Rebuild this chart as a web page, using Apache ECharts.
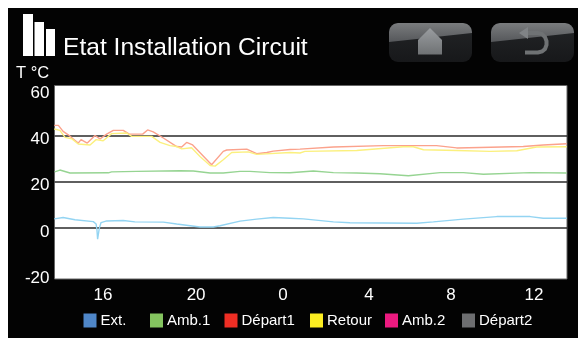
<!DOCTYPE html>
<html><head><meta charset="utf-8">
<style>html,body{margin:0;padding:0;background:#fff}#c{width:578px;height:339px}</style>
<script src="https://cdn.jsdelivr.net/npm/echarts@6/dist/echarts.min.js"></script></head>
<body><div id="c"></div>
<script>
const yTicks=[-20,0,20,40,60];
const yLines=[0,20,40];
const xTickNames=['16','20','0','4','8','12'];
const xTickHours=[16,20.32,24.35,28.34,32.15,36];
const legendNames=['Ext.','Amb.1','Départ1','Retour','Amb.2','Départ2'];
const legendColors=['#4f87c9','#84c45f','#ee2e24','#fcee21','#ec1a80','#6d6e70'];
const legendLefts=[83.5,150,224.5,310,385,462];
const extH=[13.74,14.15,14.7,15.55,15.68,15.72,15.75,15.8,15.83,15.91,16.17,16.94,17.48,18.8,19.42,20.5,21.12,21.43,22.36,23.13,23.9,24.68,25.3,26.69,27.46,30.56,31.33,32.72,34.27,35.82,36.43,37.52];
const extT=[3.9,4.5,3.5,2.7,1.7,-0.9,-4.9,-4.9,-0.1,2.3,3.0,3.2,2.6,2.5,1.7,0.4,0.4,0.9,2.9,3.8,4.5,4.2,3.9,2.6,2.2,2.0,2.6,3.8,4.9,4.9,4.2,4.2];
const amb1H=[13.76,14.0,14.47,16.25,16.4,17.56,19.57,20.19,20.97,21.58,22.36,22.82,23.75,24.68,25.76,26.69,27.77,28.85,30.17,31.64,32.72,33.65,35.82,37.52];
const amb1T=[24.3,25.1,23.8,23.9,24.3,24.5,24.8,24.7,23.8,23.8,24.5,24.5,24.0,23.9,24.7,24.0,23.8,23.5,22.6,24.0,24.0,23.3,24.0,23.8];
const depH=[13.74,13.93,14.15,14.39,14.62,14.85,14.98,15.27,15.63,15.86,16.17,16.48,16.94,17.22,17.84,18.07,18.33,18.8,19.42,19.65,19.88,20.16,21.04,21.58,21.74,22.67,23.13,23.6,23.9,24.68,25.14,26.69,29.0,30.25,31.48,32.41,33.49,35.5,36.43,37.52];
const depT=[44.5,44.5,41.9,40.4,38.6,36.8,38.3,36.8,40.1,38.6,40.7,42.3,42.3,40.7,40.7,42.5,41.7,39.0,35.3,35.1,37.1,36.0,27.4,33.2,33.8,34.2,32.2,32.7,33.3,34.0,34.2,35.1,35.7,35.7,35.7,34.7,34.9,35.3,36.0,36.5];
const retH=[13.74,14.0,14.24,14.55,14.85,15.4,15.68,16.01,16.4,17.1,17.33,18.26,18.65,19.11,19.42,19.65,20.11,20.5,20.97,21.2,21.58,21.97,22.74,23.13,24.68,25.14,25.37,27.77,29.93,30.4,30.87,32.41,33.96,35.2,36.12,37.52];
const retT=[42.9,42.3,39.3,38.7,36.4,36.0,38.3,37.8,40.9,41.2,39.7,39.7,37.1,35.7,35.3,34.3,34.8,31.0,27.1,26.8,29.6,32.7,33.0,31.9,32.7,32.5,33.2,33.6,35.2,35.2,33.9,33.6,33.2,33.5,35.1,35.2];
const pairs=(h,t)=>h.map((v,i)=>[v,t[i]]);
const lineColors=['#93d4f2','#96d492','#fba28c','#fbf07e'];
const seriesData=[pairs(extH,extT),pairs(amb1H,amb1T),pairs(depH,depT),pairs(retH,retT),[],[]];
const chart=echarts.init(document.getElementById('c'),null,{renderer:'canvas'});
const font='"Liberation Sans",Arial,sans-serif';
const btn=(x)=>[
 {type:'rect',shape:{x:x,y:23,width:83,height:39,r:9},style:{fill:new echarts.graphic.LinearGradient(0,0,0,1,[{offset:0,color:'#232527'},{offset:1,color:'#17181a'}])},z:1},
 {type:'polygon',shape:{points:[[x,42],[x,32],[x+1,28],[x+3,25.5],[x+5,24],[x+9,23],[x+74,23],[x+78,24],[x+80,25.5],[x+82,28],[x+83,32],[x+83,33]]},style:{fill:new echarts.graphic.LinearGradient(0,0,0,1,[{offset:0,color:'#7a7c7e'},{offset:1,color:'#55575a'}])},z:1}
];
chart.setOption({
 animation:false,backgroundColor:'#fff',
 title:{text:'Etat Installation Circuit',left:63,top:36,padding:0,textStyle:{color:'#fff',fontFamily:font,fontSize:24.6,fontWeight:'normal'}},
 grid:{left:54.5,right:11,top:85.5,bottom:60,show:true,backgroundColor:'#fff',borderColor:'#666',borderWidth:1,containLabel:false},
 legend:legendNames.map((n,i)=>({left:legendLefts[i],top:313,padding:0,itemWidth:13,itemHeight:14,icon:'rect',selectedMode:false,
  data:[{name:n}],textStyle:{color:'#fff',fontFamily:font,fontSize:15,padding:[2,0,0,-1]}})),
 xAxis:{type:'value',min:13.75,max:37.53,axisLine:{show:false},splitLine:{show:false},
  axisTick:{show:false,customValues:xTickHours},
  axisLabel:{customValues:xTickHours,showMinLabel:true,showMaxLabel:true,margin:8,color:'#fff',fontFamily:font,fontSize:17,
   formatter:v=>xTickNames[xTickHours.indexOf(v)]}},
 yAxis:{type:'value',min:-22.2,max:61.8,axisLine:{show:false},
  axisTick:{show:false,customValues:yLines},
  splitLine:{show:true,lineStyle:{color:'#2a2a2a',width:1.5}},
  axisLabel:{customValues:yTicks,margin:5,color:'#fff',fontFamily:font,fontSize:17,verticalAlign:'top',lineHeight:8}},
 series:legendNames.map((n,i)=>({name:n,type:'line',showSymbol:false,symbol:'none',smooth:false,
  itemStyle:{color:legendColors[i]},lineStyle:{color:lineColors[i]||legendColors[i],width:1.4},
  data:seriesData[i],z:3})),
 graphic:{elements:[
  {type:'rect',shape:{x:8,y:8,width:570,height:330},style:{fill:'#030303'},z:-10,silent:true},
  {type:'rect',shape:{x:23,y:14,width:10,height:42},style:{fill:'#fff'},z:1},
  {type:'rect',shape:{x:34.5,y:22,width:9.5,height:34},style:{fill:'#fff'},z:1},
  {type:'rect',shape:{x:46,y:29,width:9,height:27},style:{fill:'#fff'},z:1},
  {type:'text',left:16,top:65,style:{text:'T °C',fill:'#fff',font:'16.5px '+font},z:1},
  ...btn(389),...btn(491),
  {type:'polygon',shape:{points:[[418,40],[430,28],[442,40],[442,54.5],[418,54.5]]},style:{fill:new echarts.graphic.LinearGradient(0,0,0,1,[{offset:0,color:'#9a9da0'},{offset:1,color:'#6f7274'}])},z:2},
  {type:'polyline',shape:{points:[[526,33],[538,33],[542,34],[545,37],[546.5,41],[546.5,45],[545,49],[542,51.5],[538,52.5],[525,52.5]]},style:{stroke:'#6f7274',fill:'none',lineWidth:4},z:2},
  {type:'polygon',shape:{points:[[519,33],[528,27],[528,39]]},style:{fill:'#808386'},z:2}
 ]}
});
</script></body></html>
